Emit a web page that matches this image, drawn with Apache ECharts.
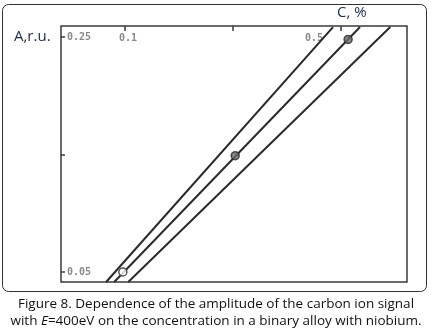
<!DOCTYPE html>
<html><head><meta charset="utf-8">
<script src="https://cdn.jsdelivr.net/npm/echarts@6/dist/echarts.min.js"></script>
<style>html,body{margin:0;padding:0;background:#fff}#c{width:432px;height:336px}</style>
</head><body><div id="c"></div>
<script>
// C, % (x) and A, r.u. (y)
const lineLeft = [[0.065, 0.0415], [0.485, 0.2585]];
const lineMiddle = [[0.080, 0.0415], [0.535, 0.2585]];
const lineRight = [[0.106, 0.0415], [0.591, 0.2585]];
const measuredPoints = [[0.096, 0.050], [0.304, 0.149], [0.513, 0.248]];
const xTicks = [0.1, 0.3, 0.5];
const xTickLabels = [0.1, 0.5];
const yTicks = [0.05, 0.15, 0.25];
const yTickLabels = [0.05, 0.25];

const chart = echarts.init(document.getElementById('c'), null, {renderer: 'canvas'});
const lineStyle = {color: '#2a2a2a', width: 2};
const tickFont = {color: '#8a8a8a', fontFamily: 'DejaVu Sans Mono', fontSize: 10, fontWeight: 'bold'};
chart.setOption({
  backgroundColor: '#fff',
  animation: false,
  grid: {left: 61, right: 25, top: 26, bottom: 54, show: true, borderColor: '#3a3a3a', borderWidth: 1.5},
  xAxis: {
    type: 'value', position: 'top', min: -0.0185, max: 0.622,
    axisLine: {show: false, onZero: false}, splitLine: {show: false},
    axisTick: {show: true, inside: true, length: 5, customValues: xTicks, lineStyle: {color: '#3a3a3a', width: 1.5}},
    axisLabel: {show: true, inside: true, margin: 7, customValues: xTickLabels,
      formatter: v => v === 0.5 ? '{r|0.5}' : '{l|' + v + '}',
      rich: {l: Object.assign({padding: [0, 0, 0, 6]}, tickFont), r: Object.assign({padding: [0, 54, 0, 0]}, tickFont)},
      color: '#8a8a8a', fontFamily: 'DejaVu Sans Mono', fontSize: 10, verticalAlign: 'top'}
  },
  yAxis: {
    type: 'value', min: 0.0415, max: 0.2594,
    axisLine: {show: false, onZero: false}, splitLine: {show: false},
    axisTick: {show: true, inside: true, length: 4, customValues: yTicks, lineStyle: {color: '#3a3a3a', width: 1.5}},
    axisLabel: {show: true, inside: true, margin: 6, customValues: yTickLabels,
      formatter: v => v.toFixed(2), color: '#8a8a8a', fontFamily: 'DejaVu Sans Mono', fontSize: 10, fontWeight: 'bold'}
  },
  series: [
    {type: 'line', data: lineLeft, symbol: 'none', lineStyle: lineStyle, clip: true},
    {type: 'line', data: lineMiddle, symbol: 'none', lineStyle: lineStyle, clip: true},
    {type: 'line', data: lineRight, symbol: 'none', lineStyle: lineStyle, clip: true},
    {type: 'scatter', data: measuredPoints, symbol: 'circle', symbolSize: 8,
      itemStyle: {color: params => params.dataIndex === 0 ? '#ffffff' : '#6a6a6a', borderColor: '#2a2a2a', borderWidth: 1.5}, z: 5}
  ],
  graphic: [
    {type: 'rect', shape: {x: 2.5, y: 4.5, width: 424, height: 287, r: 6}, style: {fill: 'none', stroke: '#333', lineWidth: 1}, silent: true},
    {type: 'text', left: 14, top: 29, style: {text: 'A,r.u.', fill: '#1d2b47', font: '15px "Open Sans"'}},
    {type: 'text', left: 337, top: 5, style: {text: 'C, %', fill: '#1d2b47', font: '15px "Open Sans"'}},
    {type: 'text', x: 216, y: 296, style: {
      text: '{n|Figure 8. Dependence of the amplitude of the carbon ion signal}\n{n|with }{i|E}{n|=400eV on the concentration in a binary alloy with niobium.}',
      align: 'center', lineHeight: 17,
      rich: {n: {fill: '#111', fontFamily: 'Open Sans', fontSize: 13.5, lineHeight: 17},
             i: {fill: '#111', fontFamily: 'Open Sans', fontSize: 13.5, fontStyle: 'italic', lineHeight: 17}}}}
  ]
});
</script></body></html>
